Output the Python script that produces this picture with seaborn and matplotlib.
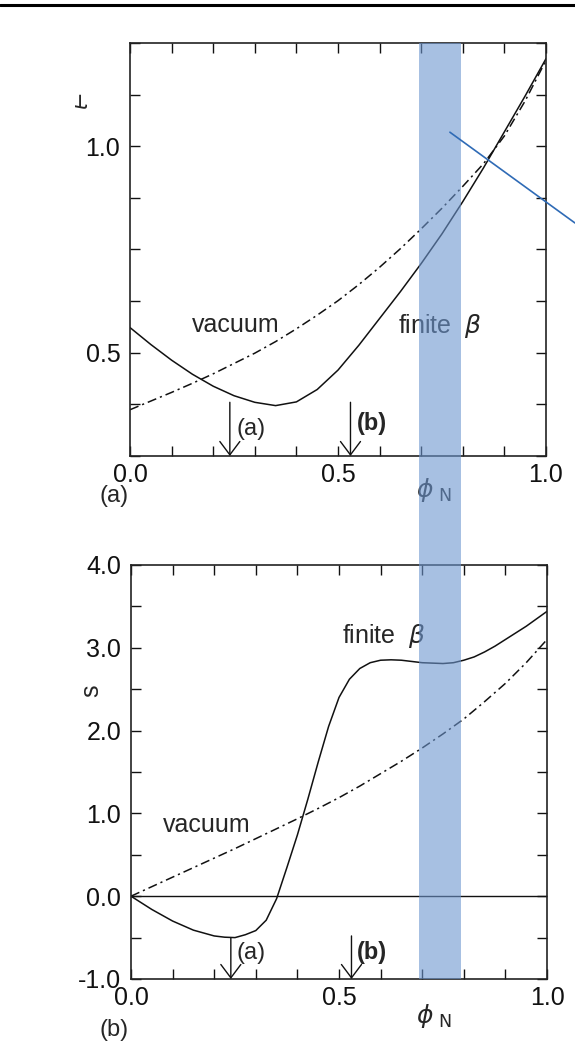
import matplotlib
matplotlib.use("Agg")
import numpy as np
import pandas as pd
import matplotlib.pyplot as plt
import seaborn as sns
from matplotlib.patches import Rectangle, ConnectionPatch
from matplotlib.lines import Line2D
from matplotlib.ticker import FixedLocator, FuncFormatter

# ---- profiles versus normalised toroidal flux -------------------------------
phi_grid = [0.00, 0.05, 0.10, 0.15, 0.20, 0.25, 0.30, 0.35, 0.40, 0.45, 0.50,
            0.55, 0.60, 0.65, 0.70, 0.75, 0.80, 0.85, 0.90, 0.95, 1.00]

# rotational transform
iota_vacuum = [0.362, 0.383, 0.404, 0.426, 0.449, 0.474, 0.499, 0.527, 0.558,
               0.591, 0.626, 0.665, 0.707, 0.752, 0.800, 0.850, 0.903, 0.958,
               1.025, 1.110, 1.208]
iota_finite = [0.561, 0.520, 0.482, 0.448, 0.419, 0.396, 0.380, 0.372, 0.381,
               0.411, 0.458, 0.518, 0.583, 0.648, 0.716, 0.788, 0.866, 0.948,
               1.035, 1.122, 1.212]

# magnetic shear
s_vacuum = [0.000, 0.115, 0.230, 0.345, 0.460, 0.575, 0.695, 0.815, 0.935,
            1.060, 1.190, 1.330, 1.480, 1.630, 1.790, 1.960, 2.140, 2.350,
            2.570, 2.820, 3.100]
phi_s_finite = [0.00, 0.05, 0.10, 0.15, 0.20, 0.225, 0.25, 0.275, 0.30, 0.325,
                0.35, 0.375, 0.40, 0.425, 0.45, 0.475, 0.50, 0.525, 0.55, 0.575,
                0.60, 0.625, 0.65, 0.70, 0.725, 0.75, 0.775, 0.80, 0.825, 0.85,
                0.875, 0.90, 0.925, 0.95, 0.975, 1.00]
s_finite = [0.00, -0.16, -0.30, -0.41, -0.48, -0.495, -0.50, -0.465, -0.415,
            -0.29, -0.03, 0.35, 0.74, 1.17, 1.62, 2.05, 2.40, 2.62, 2.75, 2.82,
            2.85, 2.855, 2.85, 2.82, 2.815, 2.81, 2.82, 2.85, 2.89, 2.95, 3.02,
            3.10, 3.18, 3.26, 3.35, 3.44]

# marked flux surfaces
marker_phi = [0.24, 0.53]
marker_names = ["(a)", "(b)"]
arrow_top_iota = [0.38, 0.38]
arrow_top_s = [-0.50, -0.48]

# highlighted flux band
band_phi = (0.695, 0.795)

# ---- style -------------------------------------------------------------------
sns.set_style("ticks")
plt.rcParams["font.family"] = ["Liberation Sans", "DejaVu Sans"]
plt.rcParams["mathtext.fontset"] = "dejavusans"
plt.rcParams["axes.unicode_minus"] = False

FS = 18
fig = plt.figure(figsize=(5.75, 10.52), dpi=100)
ax1 = fig.add_axes([130 / 575, 1 - 456 / 1052, 416 / 575, 413 / 1052])
ax2 = fig.add_axes([131 / 575, 1 - 979 / 1052, 416 / 575, 414 / 1052])

df_iota = pd.DataFrame({"phi": phi_grid, "vacuum": iota_vacuum, "finite": iota_finite})
df_s_vac = pd.DataFrame({"phi": phi_grid, "s": s_vacuum})
df_s_fin = pd.DataFrame({"phi": phi_s_finite, "s": s_finite})

dashdot = (0, (6, 2.6, 1.4, 2.6))
ink = "#111111"

sns.lineplot(data=df_iota, x="phi", y="finite", ax=ax1, color=ink,
             lw=1.1, estimator=None, sort=False)
sns.lineplot(data=df_iota, x="phi", y="vacuum", ax=ax1, color=ink,
             lw=1.1, estimator=None, sort=False, linestyle=dashdot)

sns.lineplot(data=df_s_fin, x="phi", y="s", ax=ax2, color=ink,
             lw=1.1, estimator=None, sort=False)
sns.lineplot(data=df_s_vac, x="phi", y="s", ax=ax2, color=ink,
             lw=1.1, estimator=None, sort=False, linestyle=dashdot)
ax2.axhline(0.0, color=ink, lw=1.0)

ax1.set_xlim(0, 1)
ax1.set_ylim(0.25, 1.25)
ax2.set_xlim(0, 1)
ax2.set_ylim(-1.0, 4.0)


def half_labels(v, _):
    return f"{v:.1f}" if abs(v * 2 - round(v * 2)) < 1e-6 else ""


def int_labels(v, _):
    return f"{v:.1f}" if abs(v - round(v)) < 1e-6 else ""


def top_labels(v, _):
    return f"{v:.1f}" if min(abs(v - 0.5), abs(v - 1.0)) < 1e-6 else ""


for ax in (ax1, ax2):
    ax.xaxis.set_major_locator(FixedLocator(np.round(np.arange(0, 1.01, 0.1), 2)))
    ax.xaxis.set_major_formatter(FuncFormatter(half_labels))
    ax.tick_params(direction="in", top=True, right=True, length=7, width=1.0,
                   labelsize=FS, colors=ink)
    ax.tick_params(axis="x", pad=5)
    ax.tick_params(axis="y", pad=7)
    for sp in ax.spines.values():
        sp.set_visible(True)
        sp.set_linewidth(1.2)
        sp.set_color("#222222")
    ax.set_xlabel("")
    ax.set_ylabel("")

ax1.yaxis.set_major_locator(FixedLocator(np.arange(0.25, 1.26, 0.125)))
ax1.yaxis.set_major_formatter(FuncFormatter(top_labels))
ax2.yaxis.set_major_locator(FixedLocator(np.arange(-1.0, 4.01, 0.5)))
ax2.yaxis.set_major_formatter(FuncFormatter(int_labels))

# curve labels
ax1.text(0.149, 0.551, "vacuum", fontsize=FS, ha="left", va="baseline")
ax1.text(0.644, 0.549, r"finite  $\beta$", fontsize=FS, ha="left", va="baseline")
ax2.text(0.077, 0.77, "vacuum", fontsize=FS, ha="left", va="baseline")
ax2.text(0.507, 3.06, r"finite  $\beta$", fontsize=FS, ha="left", va="baseline")

# axis names
ax1.text(-0.115, 0.86, r"$\iota\!\!\!-$", fontsize=FS - 3, rotation=90,
         transform=ax1.transAxes, ha="center", va="center")
ax2.text(-0.096, 0.696, "s", fontsize=FS, rotation=90,
         transform=ax2.transAxes, ha="center", va="center")
ax1.text(0.731, -0.082, r"$\phi_{\ \rm N}$", fontsize=FS, transform=ax1.transAxes,
         ha="center", va="center")
ax2.text(0.728, -0.089, r"$\phi_{\ \rm N}$", fontsize=FS, transform=ax2.transAxes,
         ha="center", va="center")

# arrows to the marked surfaces
arrow_kw = dict(arrowstyle="->,head_length=0.48,head_width=0.36", lw=1.0,
                color=ink, shrinkA=0, shrinkB=0, mutation_scale=20)
top_lab_y = [0.316, 0.328]
bot_lab_y = [-0.687, -0.675]
for i, (xp, name) in enumerate(zip(marker_phi, marker_names)):
    ax1.annotate("", xy=(xp, 0.25), xytext=(xp, arrow_top_iota[i]), arrowprops=arrow_kw)
    ax2.annotate("", xy=(xp, -1.0), xytext=(xp, arrow_top_s[i]), arrowprops=arrow_kw)
    weight = "bold" if name == "(b)" else "normal"
    ax1.text(xp + 0.016, top_lab_y[i], name, fontsize=FS - 1, ha="left",
             va="center", fontweight=weight)
    ax2.text(xp + 0.014, bot_lab_y[i], name, fontsize=FS - 1, ha="left",
             va="center", fontweight=weight)

# panel tags
fig.text(114 / 575, 1 - 496 / 1052, "(a)", fontsize=FS - 1, ha="center", va="center")
fig.text(114 / 575, 1 - 1030 / 1052, "(b)", fontsize=FS - 1, ha="center", va="center")

# highlighted band through both panels
fig.canvas.draw()
inv = fig.transFigure.inverted()
x0 = inv.transform(ax1.transData.transform((band_phi[0], 1.25)))
x1 = inv.transform(ax1.transData.transform((band_phi[1], 1.25)))
yb = inv.transform(ax2.transData.transform((band_phi[0], -1.0)))
band = Rectangle((x0[0], yb[1]), x1[0] - x0[0], x0[1] - yb[1],
                 transform=fig.transFigure, facecolor="#6d96cf", alpha=0.6,
                 edgecolor="none", zorder=10)
fig.add_artist(band)

# pointer line
pointer = ConnectionPatch(xyA=(0.769, 1.034), coordsA=ax1.transData,
                          xyB=(1.0, 1 - 223 / 1052), coordsB="figure fraction",
                          color="#2f6bb6", lw=1.2, zorder=11)
fig.add_artist(pointer)

# rule across the top of the page
fig.add_artist(Line2D([0, 1], [1 - 5 / 1052, 1 - 5 / 1052], transform=fig.transFigure,
                      color="black", lw=2.2))

fig.savefig("out.png", dpi=100)
